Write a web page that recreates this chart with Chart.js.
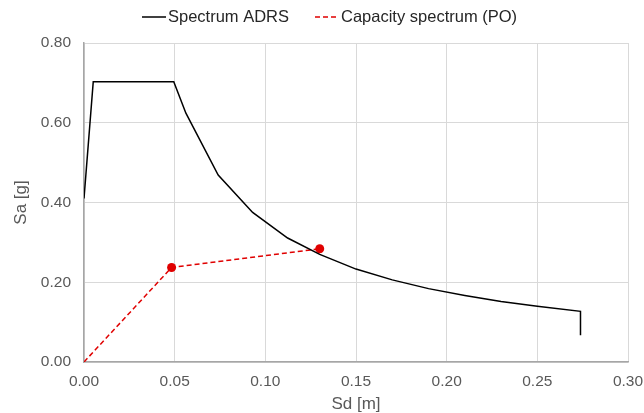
<!DOCTYPE html>
<html>
<head>
<meta charset="utf-8">
<script src="https://cdn.jsdelivr.net/npm/chart.js@4/dist/chart.umd.min.js"></script>
<style>
html,body{margin:0;padding:0;background:#fff;}
#wrap{width:644px;height:413px;position:relative;}
</style>
</head>
<body>
<div id="wrap"><canvas id="c" width="644" height="413"></canvas></div>
<script>
// Spectrum ADRS (Sd [m], Sa [g])
const adrsSd = [0.0, 0.0051, 0.0495, 0.0562, 0.074, 0.093, 0.1123, 0.130, 0.150, 0.170, 0.190, 0.210, 0.230, 0.250, 0.2738, 0.2738];
const adrsSa = [0.410, 0.703, 0.703, 0.624, 0.469, 0.375, 0.311, 0.270, 0.233, 0.206, 0.184, 0.167, 0.152, 0.140, 0.127, 0.067];
// Capacity spectrum (PO)
const capSd = [0.0, 0.0483, 0.130];
const capSa = [0.0, 0.237, 0.284];
const capMarkers = [0, 4.5, 4.5];

const seriesNames = ['Spectrum ADRS', 'Capacity spectrum (PO)'];
const xTicks = [0, 0.05, 0.10, 0.15, 0.20, 0.25, 0.30];
const yTicks = [0, 0.2, 0.4, 0.6, 0.8];
const xTitle = 'Sd [m]';
const yTitle = 'Sa [g]';

const toPts = (xs, ys) => xs.map((x, i) => ({x: x, y: ys[i]}));

const FONT = '"Liberation Sans", Arial, sans-serif';

// Legend drawn on the canvas from the datasets
const topLegend = {
  id: 'topLegend',
  afterDraw(chart) {
    const ctx = chart.ctx;
    const y = 17;
    const starts = [142, 315];
    ctx.save();
    ctx.font = '16.5px ' + FONT;
    ctx.textBaseline = 'middle';
    ctx.textAlign = 'left';
    chart.data.datasets.forEach((ds, i) => {
      const x0 = starts[i];
      ctx.beginPath();
      ctx.strokeStyle = ds.borderColor;
      ctx.lineWidth = ds.borderWidth;
      ctx.setLineDash(ds.borderDash || []);
      ctx.moveTo(x0, y);
      ctx.lineTo(x0 + 24, y);
      ctx.stroke();
      ctx.setLineDash([]);
      ctx.fillStyle = '#262626';
      ctx.fillText(ds.label, x0 + 26, y);
    });
    ctx.restore();
  }
};

new Chart(document.getElementById('c'), {
  type: 'scatter',
  data: {
    datasets: [
      {
        label: seriesNames[0],
        data: toPts(adrsSd, adrsSa),
        showLine: true,
        borderColor: '#000000',
        backgroundColor: '#000000',
        borderWidth: 1.5,
        pointRadius: 0,
        tension: 0
      },
      {
        label: seriesNames[1],
        data: toPts(capSd, capSa),
        showLine: true,
        borderColor: '#e00000',
        backgroundColor: '#e00000',
        borderWidth: 1.5,
        borderDash: [5, 3],
        pointRadius: capMarkers,
        pointHoverRadius: capMarkers,
        pointBorderWidth: 0,
        tension: 0
      }
    ]
  },
  options: {
    responsive: false,
    animation: false,
    devicePixelRatio: 1,
    layout: {padding: {left: 0, right: 16, top: 43, bottom: 0}},
    plugins: {
      tooltip: {enabled: false},
      legend: {display: false}
    },
    scales: {
      x: {
        type: 'linear',
        min: 0, max: 0.3,
        afterBuildTicks: (ax) => { ax.ticks = xTicks.map(v => ({value: v})); },
        afterFit: (s) => { s.height = 51; s.paddingLeft = 0; s.paddingRight = 0; },
        ticks: {
          color: '#595959',
          font: {family: FONT, size: 15.5},
          padding: 10,
          maxRotation: 0,
          callback: (v) => Number(v).toFixed(2)
        },
        grid: {color: '#d9d9d9', drawTicks: false, lineWidth: 1},
        border: {color: '#a6a6a6', width: 1.5},
        title: {display: true, text: xTitle, color: '#595959', font: {family: FONT, size: 17, lineHeight: 1}, padding: {top: 0, bottom: 0}}
      },
      y: {
        type: 'linear',
        min: 0, max: 0.8,
        afterBuildTicks: (ax) => { ax.ticks = yTicks.map(v => ({value: v})); },
        afterFit: (s) => { s.width = 84; s.paddingTop = 0; s.paddingBottom = 0; },
        ticks: {
          color: '#595959',
          font: {family: FONT, size: 15.5},
          padding: 13,
          callback: (v) => Number(v).toFixed(2)
        },
        grid: {color: '#d9d9d9', drawTicks: false, lineWidth: 1},
        border: {color: '#a6a6a6', width: 1.5},
        title: {display: true, text: yTitle, color: '#595959', font: {family: FONT, size: 17, lineHeight: 1}, padding: {top: 13, bottom: 0}}
      }
    }
  },
  plugins: [topLegend]
});
</script>
</body>
</html>
